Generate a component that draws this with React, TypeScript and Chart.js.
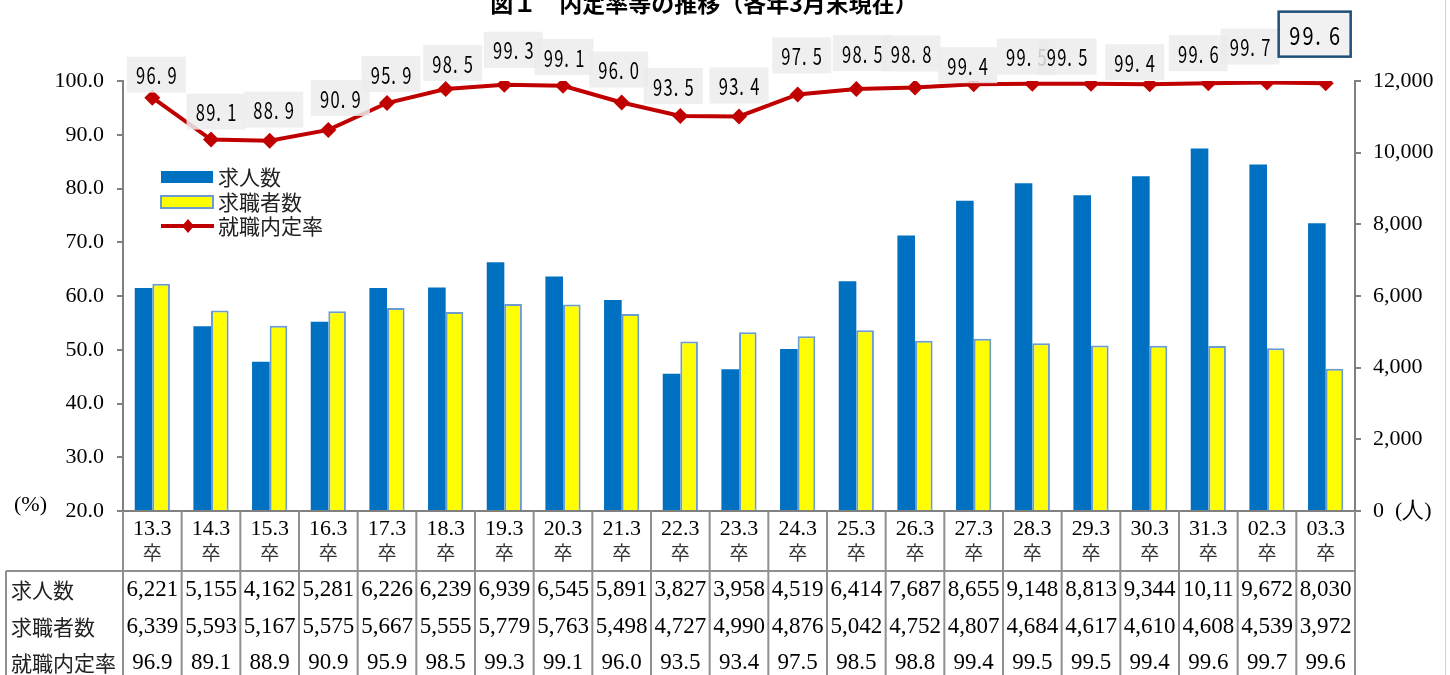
import React, { useEffect, useRef } from 'react';
import { Chart, registerables } from 'chart.js';

Chart.register(...registerables);

// ---------------- data ----------------
const categories = ['13.3', '14.3', '15.3', '16.3', '17.3', '18.3', '19.3', '20.3', '21.3', '22.3', '23.3', '24.3', '25.3', '26.3', '27.3', '28.3', '29.3', '30.3', '31.3', '02.3', '03.3'];
const categorySuffix = '卒';
const jobOffers = [6221, 5155, 4162, 5281, 6226, 6239, 6939, 6545, 5891, 3827, 3958, 4519, 6414, 7687, 8655, 9148, 8813, 9344, 10117, 9672, 8030];
const jobSeekers = [6339, 5593, 5167, 5575, 5667, 5555, 5779, 5763, 5498, 4727, 4990, 4876, 5042, 4752, 4807, 4684, 4617, 4610, 4608, 4539, 3972];
const offerRate = [96.9, 89.1, 88.9, 90.9, 95.9, 98.5, 99.3, 99.1, 96.0, 93.5, 93.4, 97.5, 98.5, 98.8, 99.4, 99.5, 99.5, 99.4, 99.6, 99.7, 99.6];
const seriesNames = ['求人数', '求職者数', '就職内定率'];
const titleText = '図１　内定率等の推移（各年3月末現在）';
const leftAxisMin = 20;
const leftAxisMax = 100;
const leftAxisStep = 10;
const rightAxisMin = 0;
const rightAxisMax = 12000;
const rightAxisStep = 2000;
const leftUnit = '(%)';
const rightUnit = '(人)';

// ---------------- layout / style ----------------
// pixel offsets of each data label from its point (manual placement as in the source)
const labelOffsets: [number, number][] = [
  [4, -23], [5, -28], [4, -31], [12, -32], [4, -29], [7, -26], [9, -35], [1, -29], [-3, -33], [-7, -30], [0, -31],
  [4, -39], [6, -36], [-4, -34], [-6, -19], [-6, -27], [-24, -27], [-15, -22], [-10, -30], [-17, -36], [-11, -49],
];
const emphasizedLabel = categories.length - 1;

const W = 1450;
const H = 675;
const BLUE = '#0070c0';
const YELLOW = '#ffff00';
const YELLOW_BORDER = '#6b9bd1';
const RED = '#c00000';
const AXIS_GRAY = '#808080';
const TABLE_GRAY = '#8f8f8f';
const SERIF = '"Liberation Serif", "Times New Roman", serif';
const GOTHIC = '"Noto Sans CJK JP", "Noto Sans", sans-serif';

function fmt(n: number) {
  return n.toLocaleString('en-US');
}

function fitText(ctx: CanvasRenderingContext2D, text: string, maxW: number) {
  let t = text;
  while (t.length > 1 && ctx.measureText(t).width > maxW) t = t.slice(0, -1);
  return t;
}

function drawMono(ctx: CanvasRenderingContext2D, text: string, cx: number, cy: number, pitch: number, size: number, sx: number) {
  ctx.font = `${size}px ${GOTHIC}`;
  ctx.textAlign = 'center';
  ctx.textBaseline = 'middle';
  const n = text.length;
  const start = cx - (pitch * n) / 2;
  for (let i = 0; i < n; i++) {
    const ch = text[i];
    ctx.save();
    const x = ch === '.' ? start + pitch * i + pitch * 0.25 : start + pitch * (i + 0.5);
    ctx.translate(x, cy);
    ctx.scale(sx, 1);
    ctx.fillText(ch, 0, 1);
    ctx.restore();
  }
}

const decorPlugin = {
  id: 'decor',
  afterDatasetsDraw(chart: any) {
    const ctx: CanvasRenderingContext2D = chart.ctx;
    const meta = chart.getDatasetMeta(0);
    ctx.save();
    meta.data.forEach((pt: any, i: number) => {
      const [dx, dy] = labelOffsets[i] || [0, -28];
      const cx = pt.x + dx;
      const cy = pt.y + dy;
      const text = offerRate[i].toFixed(1);
      if (i === emphasizedLabel) {
        const bw = 72, bh = 45;
        ctx.fillStyle = 'rgba(240,240,240,0.95)';
        ctx.fillRect(cx - bw / 2, cy - bh / 2, bw, bh);
        ctx.strokeStyle = '#1f4e79';
        ctx.lineWidth = 2.5;
        ctx.strokeRect(cx - bw / 2, cy - bh / 2, bw, bh);
        ctx.fillStyle = '#000';
        drawMono(ctx, text, cx, cy, 13.3, 25, 0.8);
      } else {
        const bw = 59, bh = 36;
        ctx.fillStyle = 'rgba(236,236,236,0.85)';
        ctx.fillRect(cx - bw / 2, cy - bh / 2, bw, bh);
        ctx.fillStyle = '#000';
        drawMono(ctx, text, cx, cy, 10.5, 23, 0.72);
      }
    });
    ctx.restore();
  },
  afterDraw(chart: any) {
    const ctx: CanvasRenderingContext2D = chart.ctx;
    const { left, right, bottom } = chart.chartArea;
    const n = categories.length;
    const cw = (right - left) / n;
    ctx.save();

    // title
    ctx.fillStyle = '#000';
    ctx.font = `bold 23px ${GOTHIC}`;
    ctx.textAlign = 'center';
    ctx.textBaseline = 'middle';
    ctx.fillText(titleText, 704, 3);

    // faint frame line at right
    ctx.strokeStyle = '#c6d6ea';
    ctx.lineWidth = 1;
    ctx.beginPath();
    ctx.moveTo(1445.5, 0);
    ctx.lineTo(1445.5, H);
    ctx.stroke();

    // left unit
    ctx.font = `22px ${SERIF}`;
    ctx.textAlign = 'left';
    ctx.fillStyle = '#000';
    ctx.fillText(leftUnit, 14, bottom - 6);

    // x baseline
    ctx.strokeStyle = AXIS_GRAY;
    ctx.lineWidth = 2;
    ctx.beginPath();
    ctx.moveTo(left, bottom);
    ctx.lineTo(right, bottom);
    ctx.stroke();

    // data table grid
    const rowTop = bottom + 60;
    ctx.strokeStyle = TABLE_GRAY;
    ctx.lineWidth = 2;
    ctx.beginPath();
    for (let k = 0; k <= n; k++) {
      const x = left + k * cw;
      ctx.moveTo(x, bottom);
      ctx.lineTo(x, H);
    }
    ctx.moveTo(6, rowTop);
    ctx.lineTo(right, rowTop);
    ctx.moveTo(6, rowTop);
    ctx.lineTo(6, H);
    ctx.stroke();

    // category labels
    ctx.textAlign = 'center';
    ctx.textBaseline = 'middle';
    for (let k = 0; k < n; k++) {
      const cx = left + (k + 0.5) * cw;
      ctx.fillStyle = '#000';
      ctx.font = `22px ${SERIF}`;
      ctx.fillText(categories[k], cx, bottom + 18);
      ctx.fillStyle = '#333';
      ctx.font = `19px ${GOTHIC}`;
      ctx.fillText(categorySuffix, cx, bottom + 42);
    }

    // table rows
    const rows: string[][] = [
      jobOffers.map(fmt),
      jobSeekers.map(fmt),
      offerRate.map((v) => v.toFixed(1)),
    ];
    const rowY = [rowTop + 19, rowTop + 56, rowTop + 92];
    rows.forEach((row, r) => {
      ctx.textAlign = 'left';
      ctx.fillStyle = '#222';
      ctx.font = `21px ${GOTHIC}`;
      ctx.fillText(seriesNames[r], 11, rowY[r]);
      ctx.fillStyle = '#000';
      ctx.font = `23px ${SERIF}`;
      ctx.textAlign = 'center';
      row.forEach((txt, k) => {
        const t = fitText(ctx, txt, cw - 2);
        ctx.fillText(t, left + (k + 0.5) * cw, rowY[r]);
      });
    });

    // legend
    const lx = 161;
    ctx.textAlign = 'left';
    ctx.textBaseline = 'middle';
    ctx.font = `21px ${GOTHIC}`;
    ctx.fillStyle = BLUE;
    ctx.fillRect(lx, 171, 52, 12);
    ctx.fillStyle = YELLOW;
    ctx.fillRect(lx, 196, 52, 12);
    ctx.strokeStyle = YELLOW_BORDER;
    ctx.lineWidth = 2;
    ctx.strokeRect(lx, 196, 52, 12);
    ctx.strokeStyle = RED;
    ctx.lineWidth = 4;
    ctx.beginPath();
    ctx.moveTo(lx, 226);
    ctx.lineTo(lx + 53, 226);
    ctx.stroke();
    ctx.fillStyle = RED;
    ctx.beginPath();
    ctx.moveTo(lx + 27, 219);
    ctx.lineTo(lx + 33, 226);
    ctx.lineTo(lx + 27, 233);
    ctx.lineTo(lx + 21, 226);
    ctx.closePath();
    ctx.fill();
    ctx.fillStyle = '#222';
    ctx.fillText(seriesNames[0], 218, 177);
    ctx.fillText(seriesNames[1], 218, 202);
    ctx.fillText(seriesNames[2], 218, 226);

    ctx.restore();
  },
};

export default function App() {
  const ref = useRef<HTMLCanvasElement | null>(null);
  useEffect(() => {
    if (!ref.current) return;
    const chart = new Chart(ref.current, {
      type: 'bar',
      data: {
        labels: categories,
        datasets: [
          {
            type: 'line',
            label: seriesNames[2],
            data: offerRate,
            yAxisID: 'y',
            borderColor: RED,
            backgroundColor: RED,
            borderWidth: 4,
            pointStyle: 'rectRot',
            pointRadius: 8,
            pointBackgroundColor: RED,
            pointBorderColor: RED,
            pointBorderWidth: 0,
            tension: 0,
            order: 0,
          } as any,
          {
            type: 'bar',
            label: seriesNames[0],
            data: jobOffers,
            yAxisID: 'y1',
            backgroundColor: BLUE,
            borderWidth: 0,
            categoryPercentage: 0.6,
            barPercentage: 1.0,
            order: 1,
          },
          {
            type: 'bar',
            label: seriesNames[1],
            data: jobSeekers,
            yAxisID: 'y1',
            backgroundColor: YELLOW,
            borderColor: YELLOW_BORDER,
            borderWidth: 2,
            categoryPercentage: 0.6,
            barPercentage: 1.0,
            order: 2,
          },
        ],
      },
      options: {
        responsive: false,
        animation: false,
        events: [],
        layout: { padding: { top: 81, bottom: H - 511, left: 0, right: 0 } },
        plugins: {
          legend: { display: false },
          tooltip: { enabled: false },
          title: { display: false },
        },
        scales: {
          x: {
            type: 'category',
            display: false,
            offset: true,
          },
          y: {
            position: 'left',
            min: leftAxisMin,
            max: leftAxisMax,
            ticks: {
              stepSize: leftAxisStep,
              callback: (v: any) => Number(v).toFixed(1),
              font: { family: SERIF, size: 22 },
              color: '#000',
              padding: 13,
            },
            grid: { drawOnChartArea: false, drawTicks: true, tickLength: 6, color: AXIS_GRAY, lineWidth: 2 },
            border: { display: true, color: AXIS_GRAY, width: 2 },
            afterFit: (s: any) => { s.width = 123; },
          },
          y1: {
            position: 'right',
            min: rightAxisMin,
            max: rightAxisMax,
            ticks: {
              stepSize: rightAxisStep,
              callback: (v: any) => (Number(v) === 0 ? `0  ${rightUnit}` : fmt(Number(v))),
              font: { family: SERIF, size: 22 },
              color: '#000',
              padding: 12,
            },
            grid: { drawOnChartArea: false, drawTicks: true, tickLength: 6, color: AXIS_GRAY, lineWidth: 2 },
            border: { display: true, color: AXIS_GRAY, width: 2 },
            afterFit: (s: any) => { s.width = W - 1355; },
          },
        },
      },
      plugins: [decorPlugin],
    });
    return () => chart.destroy();
  }, []);
  return (
    <div style={{ position: 'fixed', left: 0, top: 0, width: W, height: H, background: '#fff' }}>
      <canvas ref={ref} width={W} height={H} style={{ display: 'block' }} />
    </div>
  );
}
